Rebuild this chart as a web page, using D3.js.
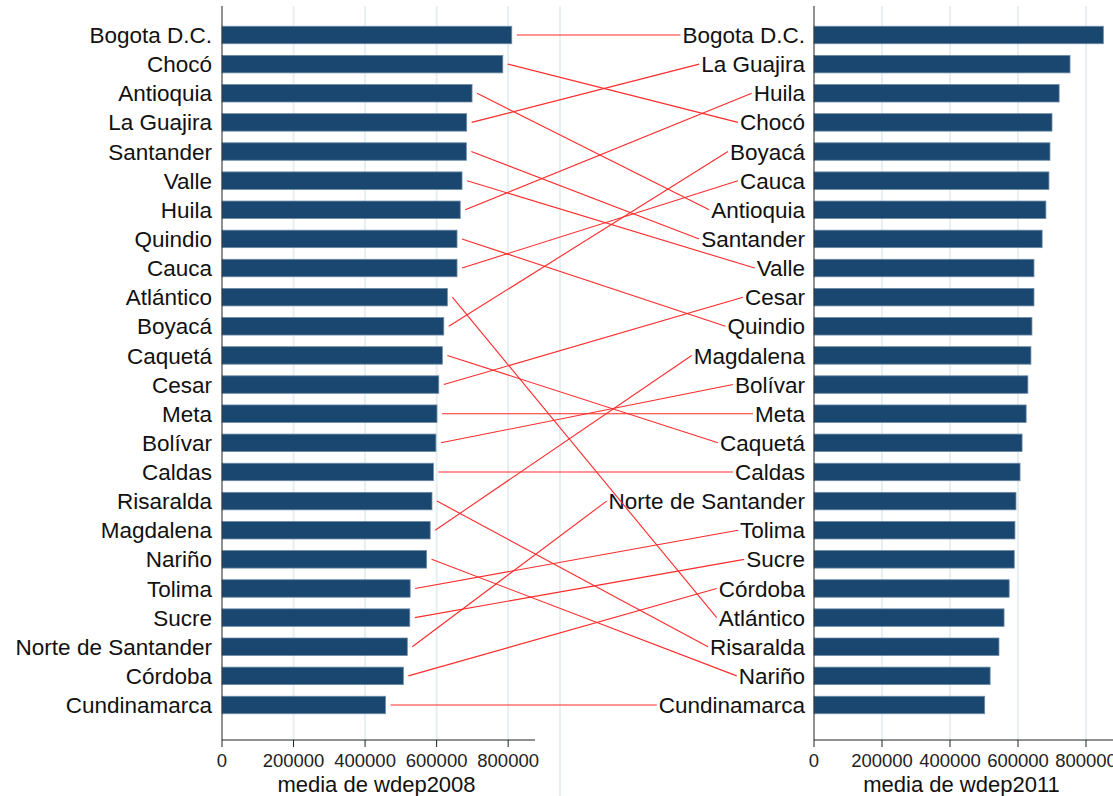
<!DOCTYPE html>
<html>
<head>
<meta charset="utf-8">
<script src="https://cdn.jsdelivr.net/npm/d3@7"></script>
<style>
  body { margin: 0; background: #fff; }
  text { font-family: "Liberation Sans", Arial, sans-serif; }
</style>
</head>
<body>
<script>
// departments ordered by 2008 mean, and by 2011 mean
var deps2008 = ["Bogota D.C.", "Chocó", "Antioquia", "La Guajira", "Santander", "Valle", "Huila", "Quindio", "Cauca", "Atlántico", "Boyacá", "Caquetá", "Cesar", "Meta", "Bolívar", "Caldas", "Risaralda", "Magdalena", "Nariño", "Tolima", "Sucre", "Norte de Santander", "Córdoba", "Cundinamarca"]
var wdep2008 = [810000, 785000, 699000, 684000, 683000, 671000, 666000, 657000, 657000, 630000, 620000, 616000, 606000, 601000, 598000, 591000, 587000, 582000, 572000, 526000, 525000, 518000, 507000, 457000]

var deps2011 = ["Bogota D.C.", "La Guajira", "Huila", "Chocó", "Boyacá", "Cauca", "Antioquia", "Santander", "Valle", "Cesar", "Quindio", "Magdalena", "Bolívar", "Meta", "Caquetá", "Caldas", "Norte de Santander", "Tolima", "Sucre", "Córdoba", "Atlántico", "Risaralda", "Nariño", "Cundinamarca"]
var wdep2011 = [851000, 753000, 721000, 700000, 694000, 691000, 682000, 671000, 647000, 647000, 641000, 638000, 629000, 624000, 612000, 606000, 594000, 591000, 589000, 574000, 559000, 544000, 518000, 502000]

var ticks = [0, 200000, 400000, 600000, 800000]

const w = 1113
const h = 796
const axisY = 740
const topY = 6

const svg = d3.select("body").append("svg")
  .attr("width", w)
  .attr("height", h)

//scales for both panels
const xLeft = d3.scaleLinear().domain([0, 875000]).range([222, 535])
const xRight = d3.scaleLinear().domain([0, 875000]).range([814, 1111.5])
const yLeft = d3.scalePoint().domain(deps2008).range([35, 705])
const yRight = d3.scalePoint().domain(deps2011).range([35, 705])
const barH = yLeft.step() * 0.6

//light gridlines
function grid(x){
  svg.append("g").selectAll("line")
     .data(ticks.slice(1))
     .enter()
     .append("line")
     .attr("x1", d => x(d)).attr("x2", d => x(d))
     .attr("y1", topY).attr("y2", axisY)
     .attr("stroke", "#e6eff1")
     .attr("stroke-width", 2)
}
grid(xLeft)
grid(xRight)
svg.append("line")
   .attr("x1", 560).attr("x2", 560)
   .attr("y1", topY).attr("y2", h)
   .attr("stroke", "#e6eff1")
   .attr("stroke-width", 2)

//bars
function bars(names, vals, x, y){
  svg.append("g").selectAll("rect")
     .data(names)
     .enter()
     .append("rect")
     .attr("x", x(0))
     .attr("y", d => y(d) - barH/2)
     .attr("width", (d, i) => x(vals[i]) - x(0))
     .attr("height", barH)
     .attr("fill", "#1a476f")
     .attr("stroke", "#6d8aa5")
     .attr("stroke-width", 0.8)
}
bars(deps2008, wdep2008, xLeft, yLeft)
bars(deps2011, wdep2011, xRight, yRight)

//left labels
svg.append("g").selectAll("text")
   .data(deps2008)
   .enter()
   .append("text")
   .attr("x", 212)
   .attr("y", d => yLeft(d))
   .attr("dy", "0.36em")
   .attr("text-anchor", "end")
   .attr("font-size", 22.5)
   .attr("fill", "#111")
   .text(d => d)

//right labels, keep their widths for the connecting lines
var labelStart = {}
svg.append("g").selectAll("text")
   .data(deps2011)
   .enter()
   .append("text")
   .attr("x", 805)
   .attr("y", d => yRight(d))
   .attr("dy", "0.36em")
   .attr("text-anchor", "end")
   .attr("font-size", 22.5)
   .attr("fill", "#111")
   .text(d => d)
   .each(function(d){ labelStart[d] = 805 - this.getComputedTextLength() })

//red connecting lines
svg.append("g").selectAll("line")
   .data(deps2008)
   .enter()
   .append("line")
   .attr("x1", (d, i) => xLeft(wdep2008[i]) + 5)
   .attr("y1", d => yLeft(d))
   .attr("x2", d => labelStart[d] - 2)
   .attr("y2", d => yRight(d))
   .attr("stroke", "#ff2a2a")
   .attr("stroke-width", 1.1)

//axes
function axis(x, x0, x1, title){
  const g = svg.append("g")
  g.append("line")
   .attr("x1", x0).attr("x2", x0)
   .attr("y1", topY).attr("y2", axisY)
   .attr("stroke", "#222")
  g.append("line")
   .attr("x1", x0).attr("x2", x1)
   .attr("y1", axisY).attr("y2", axisY)
   .attr("stroke", "#222")
  g.selectAll(".tick")
   .data(ticks)
   .enter()
   .append("line")
   .attr("x1", d => x(d)).attr("x2", d => x(d))
   .attr("y1", axisY).attr("y2", axisY + 7)
   .attr("stroke", "#222")
  g.selectAll(".lbl")
   .data(ticks)
   .enter()
   .append("text")
   .attr("x", d => x(d))
   .attr("y", axisY + 27)
   .attr("text-anchor", "middle")
   .attr("font-size", 18.5)
   .attr("fill", "#222")
   .text(d => d)
  g.append("text")
   .attr("x", (x0 + x1) / 2 - 2)
   .attr("y", 792)
   .attr("text-anchor", "middle")
   .attr("font-size", 22)
   .attr("fill", "#111")
   .text(title)
}
axis(xLeft, 222, 535, "media de wdep2008")
axis(xRight, 814, 1113, "media de wdep2011")
</script>
</body>
</html>
